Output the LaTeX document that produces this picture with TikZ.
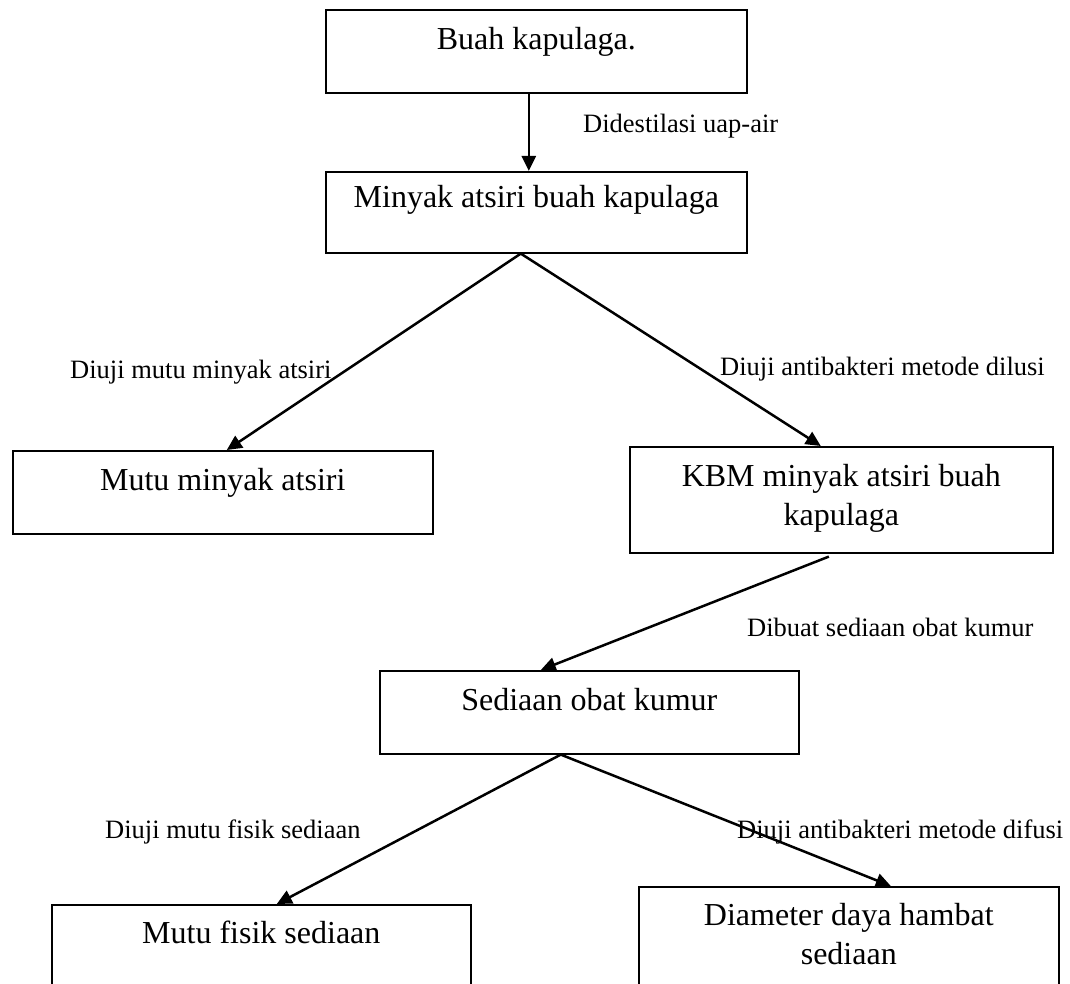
\documentclass[tikz,border=0pt]{standalone}
\usepackage{fontspec}
\setmainfont{Liberation Serif}
\usetikzlibrary{arrows.meta}
\begin{document}
\begin{tikzpicture}[x=1pt,y=-1pt,
  box/.style={draw=black, line width=1.6pt, rectangle, inner sep=0pt, anchor=north west},
  boxtext/.style={font=\fontsize{32}{39}\selectfont, inner sep=0pt, anchor=base, align=center},
  lbl/.style={font=\fontsize{26.5}{32}\selectfont, inner sep=0pt, anchor=base west},
  conn/.style={line width=2.5pt, -{Triangle[length=15pt,width=14pt]}}]
\useasboundingbox (0,0) rectangle (1070,984);
\fill[white] (0,0) rectangle (1070,984);
\clip (0,0) rectangle (1070,984);
% boxes
\node[box, minimum width=421pt, minimum height=83pt] (b1) at (325,9) {};
\node[box, minimum width=421pt, minimum height=81pt] (b2) at (325,171) {};
\node[box, minimum width=420pt, minimum height=83pt] (b3) at (12,450) {};
\node[box, minimum width=423pt, minimum height=106pt] (b4) at (629,446) {};
\node[box, minimum width=419pt, minimum height=83pt] (b5) at (379,670) {};
\node[box, minimum width=419pt, minimum height=110pt] (b6) at (51,904) {};
\node[box, minimum width=420pt, minimum height=110pt] (b7) at (638,886) {};
% box texts
\node[boxtext] (t1) at ([yshift=-41pt]b1.north) {Buah kapulaga.};
\node[boxtext] (t2) at ([yshift=-37pt]b2.north) {Minyak atsiri buah kapulaga};
\node[boxtext] (t3) at ([yshift=-40pt]b3.north) {Mutu minyak atsiri};
\node[boxtext] (t4) at ([yshift=-79pt]b4.north) {KBM minyak atsiri buah\\kapulaga};
\node[boxtext] (t5) at ([yshift=-40pt]b5.north) {Sediaan obat kumur};
\node[boxtext] (t6) at ([yshift=-39pt]b6.north) {Mutu fisik sediaan};
\node[boxtext] (t7) at ([yshift=-78pt]b7.north) {Diameter daya hambat\\sediaan};
% connectors
\draw[conn] ([xshift=-7.5pt]b1.south) -- ([xshift=-7.5pt]b2.north);
\draw[conn] ([xshift=-15.5pt]b2.south) -- ([xshift=4pt]b3.north);
\draw[conn] ([xshift=-15.5pt]b2.south) -- ([xshift=-20.5pt]b4.north);
\draw[conn] ([xshift=-12.5pt,yshift=-3pt]b4.south) -- ([xshift=-48.5pt]b5.north);
\draw[conn] ([xshift=-28.5pt]b5.south) -- ([xshift=15.5pt]b6.north);
\draw[conn] ([xshift=-28.5pt]b5.south) -- ([xshift=42pt]b7.north);
% labels
\node[lbl] (l1) at (583,133) {Didestilasi uap-air};
\node[lbl] (l2) at (70,378) {Diuji mutu minyak atsiri};
\node[lbl] (l3) at (720,375) {Diuji antibakteri metode dilusi};
\node[lbl] (l4) at (747,636) {Dibuat sediaan obat kumur};
\node[lbl] (l5) at (105,838) {Diuji mutu fisik sediaan};
\node[lbl] (l6) at (737,838) {Diuji antibakteri metode difusi};
\end{tikzpicture}
\end{document}
